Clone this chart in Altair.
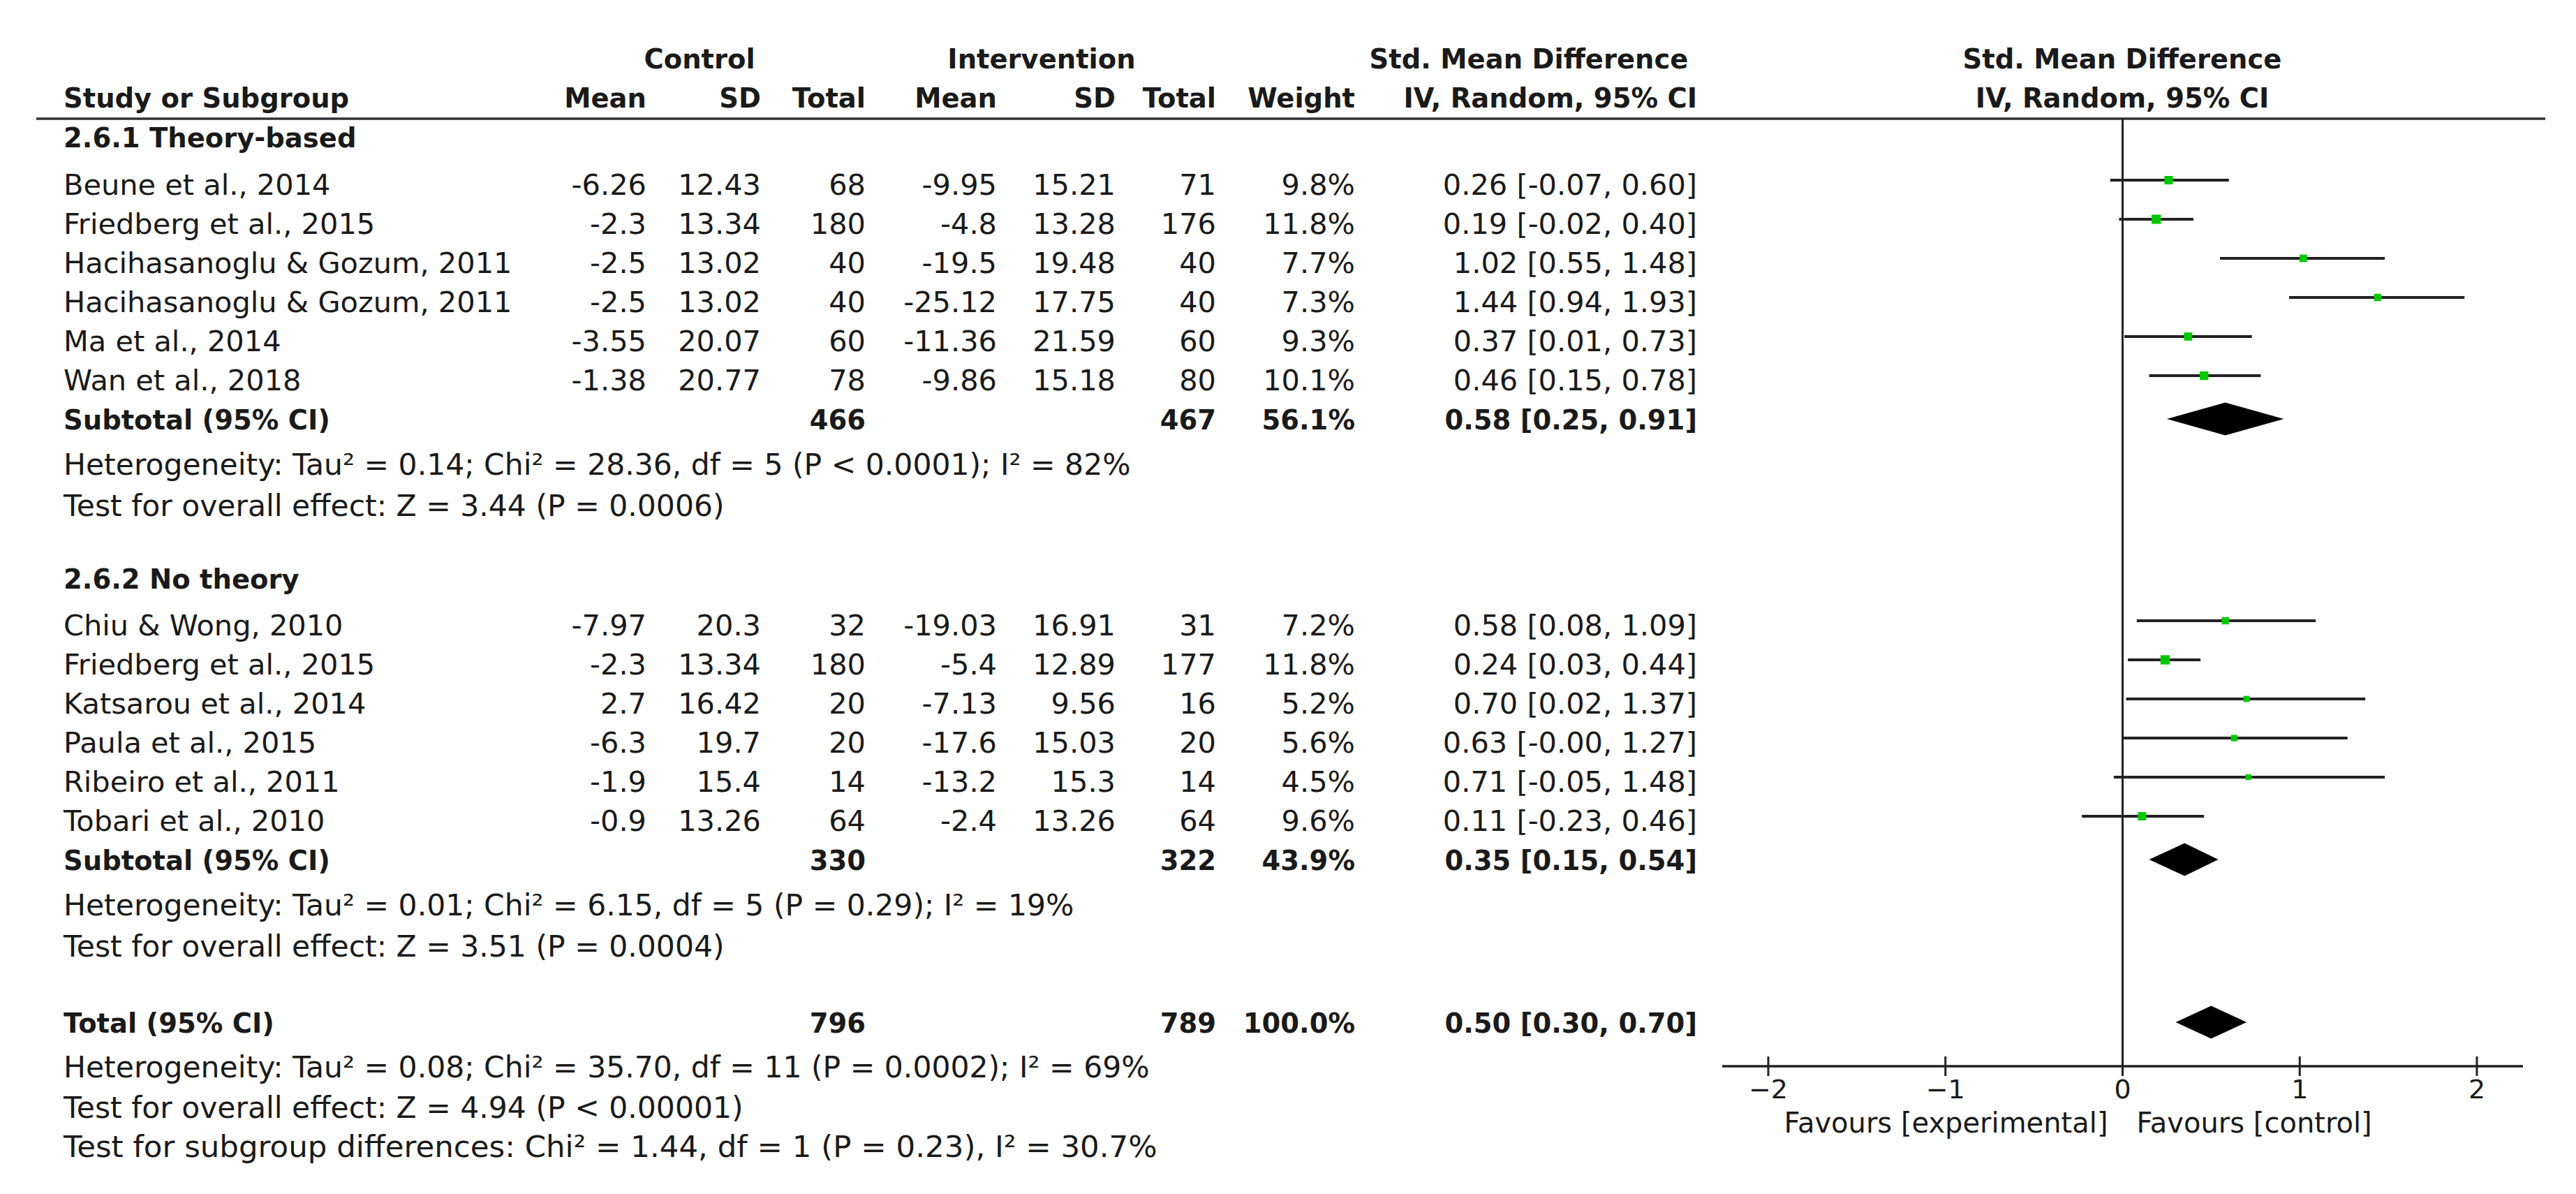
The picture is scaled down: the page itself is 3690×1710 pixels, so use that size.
import altair as alt
import pandas as pd

# ---------------- data ----------------
studies1 = ["Beune et al., 2014", "Friedberg et al., 2015", "Hacihasanoglu & Gozum, 2011",
            "Hacihasanoglu & Gozum, 2011", "Ma et al., 2014", "Wan et al., 2018"]
ctrl_mean1 = ["-6.26", "-2.3", "-2.5", "-2.5", "-3.55", "-1.38"]
ctrl_sd1 = ["12.43", "13.34", "13.02", "13.02", "20.07", "20.77"]
ctrl_n1 = [68, 180, 40, 40, 60, 78]
int_mean1 = ["-9.95", "-4.8", "-19.5", "-25.12", "-11.36", "-9.86"]
int_sd1 = ["15.21", "13.28", "19.48", "17.75", "21.59", "15.18"]
int_n1 = [71, 176, 40, 40, 60, 80]
weight1 = [9.8, 11.8, 7.7, 7.3, 9.3, 10.1]
smd1 = [0.26, 0.19, 1.02, 1.44, 0.37, 0.46]
lo1 = [-0.07, -0.02, 0.55, 0.94, 0.01, 0.15]
hi1 = [0.60, 0.40, 1.48, 1.93, 0.73, 0.78]

studies2 = ["Chiu & Wong, 2010", "Friedberg et al., 2015", "Katsarou et al., 2014",
            "Paula et al., 2015", "Ribeiro et al., 2011", "Tobari et al., 2010"]
ctrl_mean2 = ["-7.97", "-2.3", "2.7", "-6.3", "-1.9", "-0.9"]
ctrl_sd2 = ["20.3", "13.34", "16.42", "19.7", "15.4", "13.26"]
ctrl_n2 = [32, 180, 20, 20, 14, 64]
int_mean2 = ["-19.03", "-5.4", "-7.13", "-17.6", "-13.2", "-2.4"]
int_sd2 = ["16.91", "12.89", "9.56", "15.03", "15.3", "13.26"]
int_n2 = [31, 177, 16, 20, 14, 64]
weight2 = [7.2, 11.8, 5.2, 5.6, 4.5, 9.6]
smd2 = [0.58, 0.24, 0.70, 0.63, 0.71, 0.11]
lo2 = [0.08, 0.03, 0.02, -0.00, -0.05, -0.23]
hi2 = [1.09, 0.44, 1.37, 1.27, 1.48, 0.46]

group_titles = ["2.6.1 Theory-based", "2.6.2 No theory"]
sub_ctrl_n = [466, 330]
sub_int_n = [467, 322]
sub_weight = [56.1, 43.9]
sub_smd = [0.58, 0.35]
sub_lo = [0.25, 0.15]
sub_hi = [0.91, 0.54]
sub_het = ["Heterogeneity: Tau\u00b2 = 0.14; Chi\u00b2 = 28.36, df = 5 (P < 0.0001); I\u00b2 = 82%",
           "Heterogeneity: Tau\u00b2 = 0.01; Chi\u00b2 = 6.15, df = 5 (P = 0.29); I\u00b2 = 19%"]
sub_test = ["Test for overall effect: Z = 3.44 (P = 0.0006)",
            "Test for overall effect: Z = 3.51 (P = 0.0004)"]

tot_ctrl_n = 796
tot_int_n = 789
tot_weight = 100.0
tot_smd, tot_lo, tot_hi = 0.50, 0.30, 0.70
tot_het = "Heterogeneity: Tau\u00b2 = 0.08; Chi\u00b2 = 35.70, df = 11 (P = 0.0002); I\u00b2 = 69%"
tot_test = "Test for overall effect: Z = 4.94 (P < 0.00001)"
tot_subdiff = "Test for subgroup differences: Chi\u00b2 = 1.44, df = 1 (P = 0.23), I\u00b2 = 30.7%"

ticks = [-2, -1, 0, 1, 2]
axis_extent = [-2.26, 2.26]
favours_left = "Favours [experimental]"
favours_right = "Favours [control]"

# ---------------- layout ----------------
FONT = "DejaVu Sans"
FS_REG, FS_NOTE, FS_BOLD, FS_AXIS = 41.5, 42.5, 38.5, 40
OFF = 8
W, H = 3690 - 2 * OFF, 1710 - 2 * OFF
TXT = "#1a1a1a"
INK = "#222222"


def px(v):
    return v - OFF


COLX = dict(study=91, cm=926, csd=1090, cn=1240, im=1428, isd=1598, inn=1742, w=1941, ci=2431)
Y_HDR1, Y_HDR2, Y_LINE, Y_AXIS = 98, 154, 170, 1527
R = 56.0
group_top = [211, 843]
group_first = [279, 910]

cells = []


def cell(x, y, text, align="right", fw="normal", fs=None):
    if fs is None:
        fs = FS_BOLD if fw == "bold" else FS_REG
    cells.append(dict(x=px(x), y=px(y), text=str(text), al=align, fw=fw, fs=fs))


def ci_text(e, l, h):
    return f"{e:.2f} [{l:.2f}, {h:.2f}]"


# headers
cell(1002, Y_HDR1, "Control", "center", "bold")
cell(1492, Y_HDR1, "Intervention", "center", "bold")
cell(2190, Y_HDR1, "Std. Mean Difference", "center", "bold")
cell(3040, Y_HDR1, "Std. Mean Difference", "center", "bold")
cell(COLX["study"], Y_HDR2, "Study or Subgroup", "left", "bold")
for k, t in [("cm", "Mean"), ("csd", "SD"), ("cn", "Total"), ("im", "Mean"),
             ("isd", "SD"), ("inn", "Total"), ("w", "Weight"), ("ci", "IV, Random, 95% CI")]:
    cell(COLX[k], Y_HDR2, t, "right", "bold")
cell(3040, Y_HDR2, "IV, Random, 95% CI", "center", "bold")

ci_rows = []
diamonds = []
groups = [
    (studies1, ctrl_mean1, ctrl_sd1, ctrl_n1, int_mean1, int_sd1, int_n1, weight1, smd1, lo1, hi1),
    (studies2, ctrl_mean2, ctrl_sd2, ctrl_n2, int_mean2, int_sd2, int_n2, weight2, smd2, lo2, hi2),
]


def add_diamond(key, yb, e, l, h):
    yc = px(yb) - 15
    hh = 23.5
    for xv, top, bot in [(l, yc, yc), (e, yc - hh, yc + hh), (h, yc, yc)]:
        diamonds.append(dict(id=key, x=xv, y=top, y2=bot))


for g, (names, cmn, csd, cn, imn, isd, inn, wt, es, lo, hi) in enumerate(groups):
    cell(COLX["study"], group_top[g], group_titles[g], "left", "bold")
    yb = group_first[g]
    for i in range(len(names)):
        yb = group_first[g] + i * R
        cell(COLX["study"], yb, names[i], "left")
        cell(COLX["cm"], yb, cmn[i])
        cell(COLX["csd"], yb, csd[i])
        cell(COLX["cn"], yb, cn[i])
        cell(COLX["im"], yb, imn[i])
        cell(COLX["isd"], yb, isd[i])
        cell(COLX["inn"], yb, inn[i])
        cell(COLX["w"], yb, f"{wt[i]:.1f}%")
        cell(COLX["ci"], yb, ci_text(es[i], lo[i], hi[i]))
        ci_rows.append(dict(y=px(yb) - 21, est=es[i], lo=lo[i], hi=hi[i], weight=wt[i]))
    ys = yb + R
    cell(COLX["study"], ys, "Subtotal (95% CI)", "left", "bold")
    cell(COLX["cn"], ys, sub_ctrl_n[g], "right", "bold")
    cell(COLX["inn"], ys, sub_int_n[g], "right", "bold")
    cell(COLX["w"], ys, f"{sub_weight[g]:.1f}%", "right", "bold")
    cell(COLX["ci"], ys, ci_text(sub_smd[g], sub_lo[g], sub_hi[g]), "right", "bold")
    add_diamond(f"sub{g}", ys, sub_smd[g], sub_lo[g], sub_hi[g])
    cell(COLX["study"], ys + 65, sub_het[g], "left", fs=FS_NOTE)
    cell(COLX["study"], ys + 124, sub_test[g], "left", fs=FS_NOTE)

Y_TOT = 1479
cell(COLX["study"], Y_TOT, "Total (95% CI)", "left", "bold")
cell(COLX["cn"], Y_TOT, tot_ctrl_n, "right", "bold")
cell(COLX["inn"], Y_TOT, tot_int_n, "right", "bold")
cell(COLX["w"], Y_TOT, f"{tot_weight:.1f}%", "right", "bold")
cell(COLX["ci"], Y_TOT, ci_text(tot_smd, tot_lo, tot_hi), "right", "bold")
add_diamond("tot", Y_TOT, tot_smd, tot_lo, tot_hi)
cell(COLX["study"], Y_TOT + 64, tot_het, "left", fs=FS_NOTE)
cell(COLX["study"], Y_TOT + 122, tot_test, "left", fs=FS_NOTE)
cell(COLX["study"], Y_TOT + 178, tot_subdiff, "left", fs=43.5)

cells_df = pd.DataFrame(cells)
ci_df = pd.DataFrame(ci_rows)
dia_df = pd.DataFrame(diamonds)
tick_df = pd.DataFrame({"t": ticks, "lab": [str(t).replace("-", "\u2212") for t in ticks]})
axis_df = pd.DataFrame({"a": [axis_extent[0]], "b": [axis_extent[1]]})
zero_df = pd.DataFrame({"v": [0]})
fav_df = pd.DataFrame({"v": [0], "y": [px(1622)]})

xs = alt.Scale(domain=axis_extent, range=[px(2467), px(3614)], nice=False, zero=False)
xt = alt.Scale(domain=[0, W], range=[0, W], nice=False, zero=False)
ys_ = alt.Scale(domain=[0, H], range=[0, H], nice=False, zero=False)

forest = []

# line of no effect
forest.append(alt.Chart(zero_df).mark_rule(color=INK, strokeWidth=3).encode(
    x=alt.X("v:Q", scale=xs, axis=None), y=alt.value(px(Y_LINE)), y2=alt.value(px(Y_AXIS))))

# axis line, ticks and labels
forest.append(alt.Chart(axis_df).mark_rule(color=INK, strokeWidth=3.5).encode(
    x=alt.X("a:Q", scale=xs, axis=None), x2="b:Q", y=alt.value(px(Y_AXIS))))
forest.append(alt.Chart(tick_df).mark_rule(color=INK, strokeWidth=3).encode(
    x=alt.X("t:Q", scale=xs, axis=None),
    y=alt.value(px(Y_AXIS) - 14), y2=alt.value(px(Y_AXIS) + 14)))
forest.append(alt.Chart(tick_df).mark_text(align="center", baseline="alphabetic", font=FONT,
                                           fontSize=38, color=TXT).encode(
    x=alt.X("t:Q", scale=xs, axis=None), y=alt.value(px(Y_AXIS) + 46), text="lab:N"))

# confidence intervals
forest.append(alt.Chart(ci_df).mark_rule(color=INK, strokeWidth=4).encode(
    x=alt.X("lo:Q", scale=xs, axis=None), x2="hi:Q",
    y=alt.Y("y:Q", scale=ys_, axis=None)))

# point estimates
forest.append(alt.Chart(ci_df).mark_square(color="#00C800", opacity=1, filled=True).encode(
    x=alt.X("est:Q", scale=xs, axis=None),
    y=alt.Y("y:Q", scale=ys_, axis=None),
    size=alt.Size("weight:Q", scale=alt.Scale(domain=[0, 11.8], range=[0, 175]), legend=None)))

# diamonds
forest.append(alt.Chart(dia_df).mark_area(color="black", orient="vertical", opacity=1).encode(
    x=alt.X("x:Q", scale=xs, axis=None),
    y=alt.Y("y:Q", scale=ys_, axis=None), y2="y2:Q",
    detail="id:N"))

# favours labels
forest.append(alt.Chart(fav_df).mark_text(align="right", baseline="alphabetic", dx=-21,
                                          font=FONT, fontSize=FS_AXIS, color=TXT).encode(
    x=alt.X("v:Q", scale=xs, axis=None), y=alt.Y("y:Q", scale=ys_, axis=None),
    text=alt.value(favours_left)))
forest.append(alt.Chart(fav_df).mark_text(align="left", baseline="alphabetic", dx=20,
                                          font=FONT, fontSize=FS_AXIS, color=TXT).encode(
    x=alt.X("v:Q", scale=xs, axis=None), y=alt.Y("y:Q", scale=ys_, axis=None),
    text=alt.value(favours_right)))

# table text + header separator
table = [alt.Chart(zero_df).mark_rule(color="#333333", strokeWidth=3.5).encode(
    x=alt.value(px(52)), x2=alt.value(px(3646)), y=alt.value(px(Y_LINE)))]
for (align, fw, fs), sub in cells_df.groupby(["al", "fw", "fs"]):
    table.append(alt.Chart(sub).mark_text(align=align, baseline="alphabetic", font=FONT,
                                          fontSize=float(fs), fontWeight=fw, color=TXT).encode(
        x=alt.X("x:Q", scale=xt, axis=None),
        y=alt.Y("y:Q", scale=ys_, axis=None),
        text="text:N"))

chart = alt.layer(alt.layer(*table), alt.layer(*forest)).resolve_scale(x="independent").properties(
    width=W, height=H, padding=0, background="white",
    autosize=alt.AutoSizeParams(type="none"),
).configure_view(stroke=None)

chart.save("out.html", embed_options={"renderer": "svg", "actions": False})
